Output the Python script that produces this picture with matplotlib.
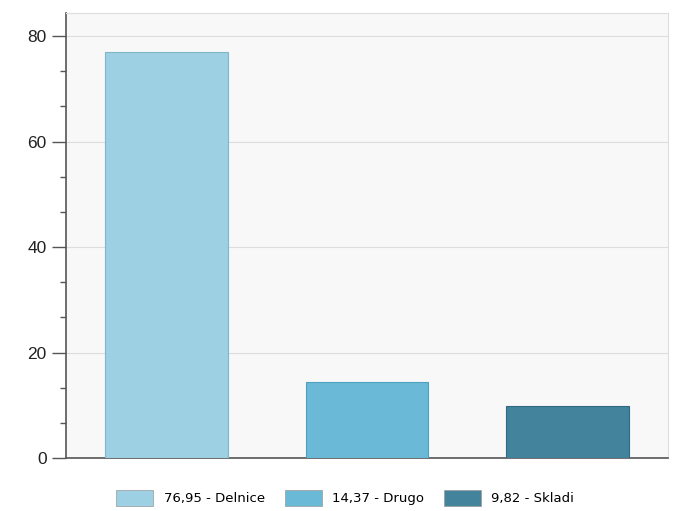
import matplotlib.pyplot as plt
from matplotlib.ticker import MultipleLocator, AutoMinorLocator
from matplotlib.patches import Patch

categories = ['Delnice', 'Drugo', 'Skladi']
values = [76.95, 14.37, 9.82]
value_labels = ['76,95', '14,37', '9,82']
colors = ['#9dd0e3', '#6ab9d7', '#43849c']

plt.rcParams['font.family'] = ['Liberation Sans', 'DejaVu Sans']

fig = plt.figure(figsize=(6.73, 5.11), dpi=100)
ax = fig.add_axes([66 / 673, 1 - 458 / 511, 602 / 673, 445 / 511])
ax.set_facecolor('#f8f8f8')

x = range(len(categories))
ax.bar(x, values, width=0.61, color=colors, edgecolor=['#7fb6ca', '#4fa0bf', '#2f6a80'],
       linewidth=0.8, zorder=3)

ax.set_xlim(-0.5, 2.5)
ax.set_ylim(0, 84.4)
ax.yaxis.set_major_locator(MultipleLocator(20))
ax.yaxis.set_minor_locator(AutoMinorLocator(3))
ax.grid(axis='y', color='#dddddd', linewidth=0.8, zorder=0)
ax.set_xticks([])
ax.tick_params(axis='y', which='major', length=10, width=1, color='#555555',
               labelsize=12.5, labelcolor='#222222', pad=4)
ax.tick_params(axis='y', which='minor', length=4, width=1, color='#555555')

ax.spines['left'].set_color('#555555')
ax.spines['bottom'].set_color('#555555')
ax.spines['left'].set_linewidth(1.2)
ax.spines['bottom'].set_linewidth(1.2)
ax.spines['top'].set_color('#dddddd')
ax.spines['right'].set_color('#dddddd')

handles = [Patch(facecolor=c, edgecolor='#999999', linewidth=0.5) for c in colors]
labels = [f'{v} - {c}' for v, c in zip(value_labels, categories)]
fig.legend(handles, labels, loc='center', bbox_to_anchor=(0.513, 1 - 498 / 511),
           ncol=3, frameon=False, handlelength=2.8, handleheight=1.5,
           handletextpad=0.8, columnspacing=1.5,
           prop={'family': 'DejaVu Sans', 'size': 9.5})

fig.savefig('out.png', dpi=100)
